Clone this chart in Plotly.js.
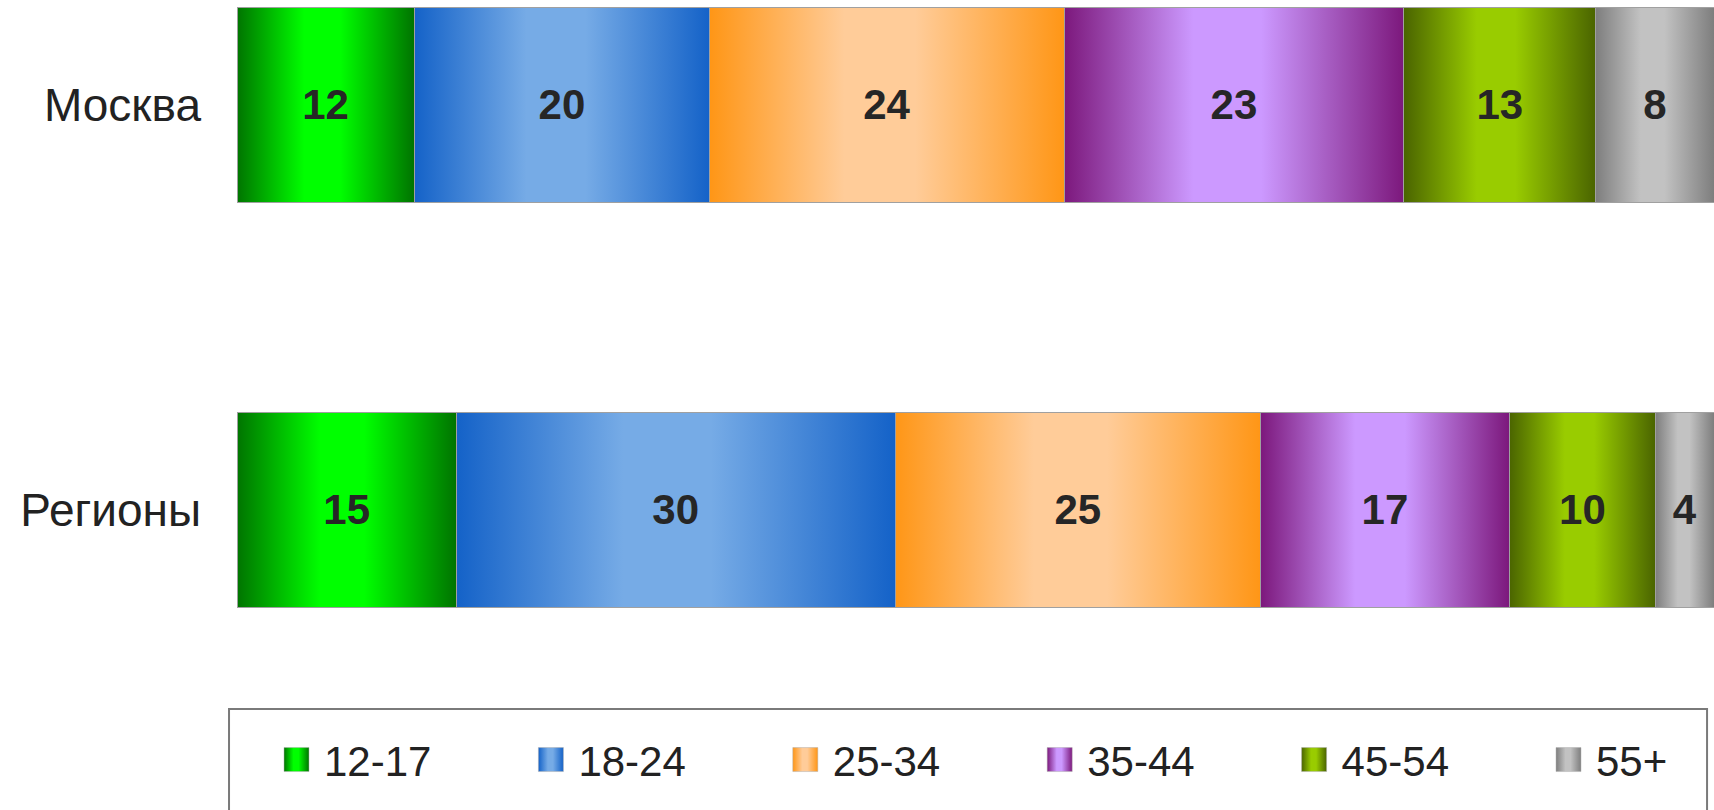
<!DOCTYPE html>
<html>
<head>
<meta charset="utf-8">
<script src="https://cdn.plot.ly/plotly-3.0.1.min.js"></script>
<style>
  html, body { margin: 0; padding: 0; background: #ffffff; }
  #chart { width: 1714px; height: 810px; }
</style>
</head>
<body>
<div id="chart"></div>
<script>
// ---- data ----
const categories = ['Москва', 'Регионы'];
const ageGroups = ['12-17', '18-24', '25-34', '35-44', '45-54', '55+'];
const moscow  = [12, 20, 24, 23, 13, 8];
const regions = [15, 30, 25, 17, 10, 4];

// ---- styles ----
const edgeColors   = ['#007400', '#1462c8', '#ff9616', '#7c187c', '#4a6400', '#7e7e7e'];
const centerColors = ['#00ff00', '#76abe6', '#ffcc99', '#cc99ff', '#99cc00', '#c2c2c2'];

const traces = ageGroups.map((g, i) => ({
  type: 'bar',
  orientation: 'h',
  name: g,
  y: categories,
  x: [moscow[i], regions[i]],
  text: [String(moscow[i]), String(regions[i])],
  texttemplate: '%{text}',
  textposition: 'inside',
  insidetextanchor: 'middle',
  constraintext: 'none',
  textangle: 0,
  insidetextfont: { family: 'Liberation Sans, Arial, sans-serif', size: 42, color: '#262626', weight: 'bold' },
  marker: { color: centerColors[i], line: { color: '#a0a0a0', width: 1 } },
  hoverinfo: 'skip'
}));

const layout = {
  width: 1714,
  height: 810,
  margin: { l: 237, r: 0, t: 0, b: 170 },
  paper_bgcolor: '#ffffff',
  plot_bgcolor: 'rgba(0,0,0,0)',
  barmode: 'stack',
  barnorm: 'percent',
  bargap: 0.52,
  showlegend: true,
  font: { family: 'Liberation Sans, Arial, sans-serif', color: '#222222' },
  xaxis: {
    range: [0, 100],
    showgrid: false, zeroline: false, showticklabels: false, showline: false, ticks: ''
  },
  yaxis: {
    type: 'category',
    categoryorder: 'array',
    categoryarray: ['Регионы', 'Москва'],
    range: [-0.321, 1.259],
    showgrid: false, zeroline: false, showline: false, ticks: '',
    ticklabelstandoff: 35,
    tickfont: { size: 46, color: '#222222', family: 'Liberation Sans, Arial, sans-serif' }
  },
  legend: {
    orientation: 'h',
    x: -0.00542,
    xanchor: 'left',
    y: -0.134,
    yanchor: 'top',
    traceorder: 'normal',
    indentation: 97,
    entrywidth: 112.4,
    entrywidthmode: 'pixels',
    font: { size: 42, color: '#222222', family: 'Liberation Sans, Arial, sans-serif' },
    bgcolor: 'rgba(0,0,0,0)',
    borderwidth: 0
  },
  shapes: [{
    type: 'rect', xref: 'paper', yref: 'paper',
    x0: -0.0054, x1: 0.9953, y0: -0.1078, y1: -0.30,
    line: { color: '#7a7a7a', width: 2 },
    fillcolor: 'rgba(0,0,0,0)',
    layer: 'below'
  }]
};

Plotly.newPlot('chart', traces, layout, { staticPlot: true, displayModeBar: false }).then(gd => {
  const svg = gd.querySelector('svg.main-svg');
  const NS = 'http://www.w3.org/2000/svg';
  let defs = svg.querySelector('defs');
  if (!defs) { defs = document.createElementNS(NS, 'defs'); svg.insertBefore(defs, svg.firstChild); }
  ageGroups.forEach((g, i) => {
    const lg = document.createElementNS(NS, 'linearGradient');
    lg.setAttribute('id', 'barGrad' + i);
    lg.setAttribute('x1', '0'); lg.setAttribute('y1', '0');
    lg.setAttribute('x2', '1'); lg.setAttribute('y2', '0');
    [[0, edgeColors[i]], [0.38, centerColors[i]], [0.58, centerColors[i]], [1, edgeColors[i]]].forEach(([o, c]) => {
      const st = document.createElementNS(NS, 'stop');
      st.setAttribute('offset', o);
      st.setAttribute('stop-color', c);
      lg.appendChild(st);
    });
    defs.appendChild(lg);
  });
  gd.querySelectorAll('.barlayer .trace').forEach((tr, i) => {
    tr.querySelectorAll('.point path').forEach(p => { p.style.fill = 'url(#barGrad' + i + ')'; });
  });
  gd.querySelectorAll('.legend .traces').forEach((tr, i) => {
    tr.querySelectorAll('.legendpoints path').forEach(p => {
      p.setAttribute('d', 'M5,12H-20V-12H5Z');
      p.style.fill = 'url(#barGrad' + i + ')';
      p.style.stroke = '#b0b0b0';
      p.style.strokeWidth = '0.5px';
    });
  });
});
</script>
</body>
</html>
